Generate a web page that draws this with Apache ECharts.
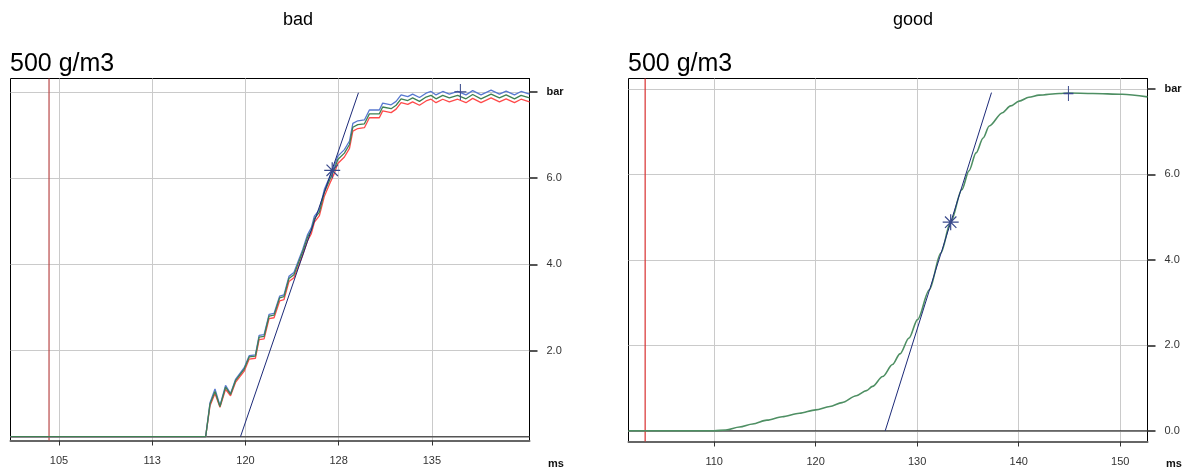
<!DOCTYPE html>
<html>
<head>
<meta charset="utf-8">
<script src="https://cdn.jsdelivr.net/npm/echarts@6/dist/echarts.min.js"></script>
<style>
html,body{margin:0;padding:0;background:#fff;}
#chart{width:1186px;height:471px;}
</style>
</head>
<body>
<div id="chart"></div>
<script>
// ---------- data ----------
const TITLES = ['bad', 'good'];
const SUBTITLE = '500 g/m3';
const X_UNIT = 'ms';
const Y_UNIT = 'bar';

const X_TICKS_BAD = [105, 112.5, 120, 127.5, 135];
const X_TICKS_GOOD = [110, 120, 130, 140, 150];
const Y_TICKS_BAD = [2, 4, 6, 8];
const Y_TICKS_GOOD = [0, 2, 4, 6, 8];
const X_RANGE_BAD = [101.1, 142.85];
const Y_RANGE_BAD = [-0.088, 8.311];
const X_RANGE_GOOD = [101.56, 152.69];
const Y_RANGE_GOOD = [-0.25, 8.24];

const T_BAD = [101.1, 116.8, 117.15, 117.55, 117.95, 118.4, 118.8, 119.2, 119.9, 120.3, 120.8, 121.1, 121.5, 121.9, 122.3, 122.75, 123.1, 123.5, 123.9, 124.35, 124.6, 125.0, 125.3, 125.55, 125.95, 126.35, 126.75, 127.15, 127.43, 127.96, 128.37, 128.64, 129.04, 129.57, 129.97, 130.77, 131.04, 131.72, 132.12, 132.52, 133.06, 133.45, 134.0, 134.53, 134.93, 135.33, 135.87, 136.4, 137.07, 137.74, 138.28, 138.95, 139.76, 140.43, 140.97, 141.64, 142.17, 142.85];
const BLUE_BAD = [0, 0, 0.79, 1.11, 0.72, 1.19, 1.0, 1.33, 1.6, 1.88, 1.9, 2.35, 2.37, 2.84, 2.86, 3.26, 3.29, 3.72, 3.81, 4.15, 4.34, 4.69, 4.85, 5.12, 5.27, 5.74, 6.01, 6.28, 6.51, 6.66, 6.86, 7.27, 7.33, 7.35, 7.58, 7.58, 7.74, 7.70, 7.78, 7.93, 7.89, 7.95, 7.87, 7.97, 8.01, 7.93, 8.01, 7.95, 8.01, 7.93, 8.03, 7.93, 8.04, 7.95, 8.02, 7.93, 8.01, 7.95];
const GREEN_BAD = [0, 0, 0.76, 1.05, 0.70, 1.15, 0.98, 1.30, 1.57, 1.85, 1.87, 2.31, 2.33, 2.80, 2.82, 3.22, 3.25, 3.67, 3.76, 4.10, 4.29, 4.63, 4.79, 5.06, 5.21, 5.67, 5.94, 6.20, 6.43, 6.58, 6.78, 7.18, 7.24, 7.26, 7.49, 7.49, 7.65, 7.61, 7.69, 7.84, 7.80, 7.86, 7.78, 7.88, 7.92, 7.84, 7.92, 7.86, 7.92, 7.84, 7.94, 7.84, 7.95, 7.86, 7.93, 7.84, 7.92, 7.86];
const RED_BAD = [0, 0, 0.72, 1.0, 0.68, 1.1, 0.95, 1.26, 1.52, 1.8, 1.82, 2.25, 2.27, 2.74, 2.76, 3.15, 3.18, 3.6, 3.69, 4.02, 4.21, 4.55, 4.71, 4.98, 5.13, 5.58, 5.85, 6.11, 6.34, 6.49, 6.69, 7.09, 7.15, 7.17, 7.40, 7.40, 7.56, 7.52, 7.60, 7.75, 7.71, 7.77, 7.69, 7.79, 7.83, 7.75, 7.83, 7.77, 7.83, 7.75, 7.85, 7.75, 7.86, 7.77, 7.84, 7.75, 7.83, 7.77];
const TANGENT_BAD = [[119.6, 0], [129.09, 7.98]];
const STAR_BAD = [126.98, 6.18];
const PLUS_BAD = [137.29, 8.0];
const TRIGGER_BAD = 104.2;

const T_GOOD = [101.56, 110.0, 111.15, 112.5, 113.8, 115.2, 116.7, 118.4, 120.0, 121.4, 122.6, 124.0, 125.0, 125.6, 126.6, 127.57, 128.3, 129.2, 130.03, 131.2, 132.33, 133.3, 134.4, 135.1, 135.8, 136.5, 137.1, 138.4, 139.2, 140.05, 141.0, 142.0, 144.0, 144.9, 147.3, 150.2, 152.69];
const V_GOOD = [0, 0, 0.02, 0.09, 0.16, 0.25, 0.33, 0.41, 0.49, 0.57, 0.66, 0.82, 0.94, 1.04, 1.27, 1.55, 1.80, 2.17, 2.6, 3.3, 4.16, 4.88, 5.64, 6.08, 6.5, 6.85, 7.13, 7.44, 7.6, 7.71, 7.8, 7.85, 7.89, 7.9, 7.89, 7.87, 7.81];
const TANGENT_GOOD = [[126.85, 0], [137.32, 7.91]];
const STAR_GOOD = [133.3, 4.88];
const PLUS_GOOD = [144.9, 7.89];
const TRIGGER_GOOD = 103.2;

// ---------- helpers ----------
const zip = (t, v) => t.map((x, i) => [x, v[i]]);
const FONT = 'Liberation Sans, Arial, sans-serif';
const STAR_PATH = 'path://M0,8 L16,8 M8,0 L8,16 M2.3,2.3 L13.7,13.7 M2.3,13.7 L13.7,2.3';
const PLUS_PATH = 'path://M8,0 L8,16 M2,8 L14,8';

function xAxisCfg(gi, range, ticks) {
  return {
    type: 'value', gridIndex: gi, min: range[0], max: range[1],
    axisLine: { show: true, onZero: false, lineStyle: { color: '#666', width: 2 } },
    axisTick: { show: true, customValues: ticks, length: 5, lineStyle: { color: '#333' } },
    axisLabel: { customValues: ticks, formatter: v => String(Math.round(v)), fontSize: 11, color: '#333', fontFamily: FONT, margin: 15 },
    splitLine: { show: true, lineStyle: { color: '#cacaca', width: 1 } }
  };
}
function yAxisCfg(gi, range, ticks) {
  return {
    type: 'value', gridIndex: gi, min: range[0], max: range[1], position: 'right',
    axisLine: { show: true, onZero: false, lineStyle: { color: '#000', width: 1 } },
    axisTick: { show: true, customValues: ticks, length: 8, lineStyle: { color: '#555', width: 2 } },
    axisLabel: {
      customValues: ticks, margin: 17, fontSize: 11, color: '#333', fontFamily: FONT,
      formatter: v => (Math.abs(v - 8) < 1e-9 ? '{b|' + Y_UNIT + '}' : v.toFixed(1)),
      rich: { b: { fontWeight: 'bold', fontSize: 11, color: '#111', fontFamily: FONT } }
    },
    splitLine: { show: true, lineStyle: { color: '#cacaca', width: 1 } }
  };
}
function lineS(gi, data, color, w, z, extra) {
  return Object.assign({
    type: 'line', xAxisIndex: gi, yAxisIndex: gi, data: data, showSymbol: false,
    symbol: 'none', lineStyle: { color: color, width: w }, itemStyle: { color: color },
    z: z, silent: true, animation: false, clip: true
  }, extra || {});
}
function markerS(gi, pt, path, size) {
  return {
    type: 'scatter', xAxisIndex: gi, yAxisIndex: gi, data: [pt], symbol: path, symbolSize: size,
    itemStyle: { color: 'rgba(0,0,0,0)', borderColor: '#3a4a8c', borderWidth: 1.2, opacity: 1 },
    z: 10, silent: true, animation: false
  };
}

const chart = echarts.init(document.getElementById('chart'), null, { renderer: 'canvas' });
chart.setOption({
  backgroundColor: '#fff',
  animation: false,
  grid: [
    { left: 10.5, top: 78.5, width: 519, height: 362, show: true, borderColor: '#000', borderWidth: 1, backgroundColor: '#fff', outerBoundsMode: 'none' },
    { left: 628.5, top: 78.5, width: 519, height: 363, show: true, borderColor: '#000', borderWidth: 1, backgroundColor: '#fff', outerBoundsMode: 'none' }
  ],
  xAxis: [
    xAxisCfg(0, X_RANGE_BAD, X_TICKS_BAD),
    xAxisCfg(1, X_RANGE_GOOD, X_TICKS_GOOD)
  ],
  yAxis: [
    yAxisCfg(0, Y_RANGE_BAD, Y_TICKS_BAD),
    yAxisCfg(1, Y_RANGE_GOOD, Y_TICKS_GOOD)
  ],
  series: [
    lineS(0, [[X_RANGE_BAD[0], 0], [X_RANGE_BAD[1], 0]], '#555555', 1.5, 2),
    lineS(0, [[TRIGGER_BAD, Y_RANGE_BAD[0]], [TRIGGER_BAD, Y_RANGE_BAD[1]]], '#b84848', 1.2, 2),
    lineS(0, zip(T_BAD, RED_BAD), '#ff4a4a', 1.3, 3),
    lineS(0, zip(T_BAD, BLUE_BAD), '#5878d0', 1.3, 4),
    lineS(0, zip(T_BAD, GREEN_BAD), '#3f8052', 1.3, 5),
    lineS(0, TANGENT_BAD, '#1c2a78', 1, 6),
    markerS(0, STAR_BAD, STAR_PATH, 16),
    markerS(0, PLUS_BAD, PLUS_PATH, [12, 16]),

    lineS(1, [[X_RANGE_GOOD[0], 0], [X_RANGE_GOOD[1], 0]], '#333333', 1.2, 2),
    lineS(1, [[TRIGGER_GOOD, Y_RANGE_GOOD[0]], [TRIGGER_GOOD, Y_RANGE_GOOD[1]]], '#d83030', 1.2, 2),
    lineS(1, zip(T_GOOD, V_GOOD), '#4e8f63', 1.6, 5, { smooth: 0.3, smoothMonotone: 'x' }),
    lineS(1, TANGENT_GOOD, '#1c2a78', 1, 6),
    markerS(1, STAR_GOOD, STAR_PATH, 16),
    markerS(1, PLUS_GOOD, PLUS_PATH, [10, 15])
  ],
  graphic: [
    { type: 'text', style: { text: TITLES[0], x: 298, y: 20, align: 'center', verticalAlign: 'middle', font: '18px ' + FONT, fill: '#000' } },
    { type: 'text', style: { text: TITLES[1], x: 913, y: 20, align: 'center', verticalAlign: 'middle', font: '18px ' + FONT, fill: '#000' } },
    { type: 'text', style: { text: SUBTITLE, x: 10, y: 64, align: 'left', verticalAlign: 'middle', font: '25px ' + FONT, fill: '#000' } },
    { type: 'text', style: { text: SUBTITLE, x: 628, y: 64, align: 'left', verticalAlign: 'middle', font: '25px ' + FONT, fill: '#000' } },
    { type: 'text', style: { text: X_UNIT, x: 548, y: 464, align: 'left', verticalAlign: 'middle', font: 'bold 11px ' + FONT, fill: '#111' } },
    { type: 'text', style: { text: X_UNIT, x: 1166, y: 464, align: 'left', verticalAlign: 'middle', font: 'bold 11px ' + FONT, fill: '#111' } }
  ]
});
</script>
</body>
</html>
